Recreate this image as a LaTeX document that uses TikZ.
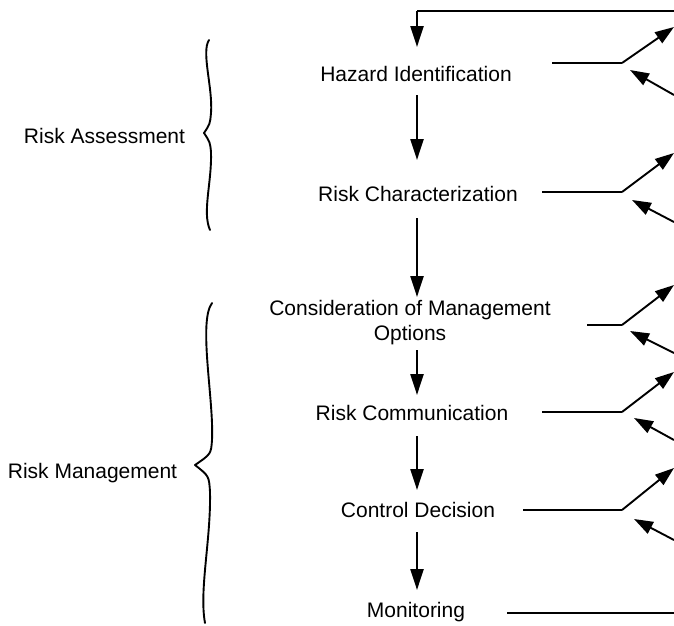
\documentclass[tikz,border=0pt]{standalone}
\usepackage{fontspec}
\setmainfont{Liberation Sans}
\usetikzlibrary{arrows.meta}
\begin{document}
\begin{tikzpicture}[x=1pt,y=-1pt,
  lbl/.style={anchor=base,inner sep=0pt,font=\fontsize{21}{25}\selectfont,align=center},
  varr/.style={line width=2.3pt,-{Triangle[length=21pt,width=13pt]}},
  dline/.style={line width=1.9pt},
  darr/.style={line width=1.9pt,-{Triangle[length=19pt,width=13pt]}},
  brc/.style={line width=1.9pt,line cap=round,line join=round}]
\useasboundingbox (0,0) rectangle (674,625);
% labels
\node[lbl] (haz) at (416,81) {Hazard Identification};
\node[lbl] (rch) at (418,201) {Risk Characterization};
\node[lbl] (cmo) at (410,340) {Consideration of Management\\Options};
\node[lbl] (rcm) at (412,420) {Risk Communication};
\node[lbl] (ctl) at (418,517) {Control Decision};
\node[lbl] (mon) at (416,617) {Monitoring};
\node[lbl] (ra) at (104.5,143) {Risk Assessment};
\node[lbl] (rm) at (92.5,478) {Risk Management};
% vertical flow coordinates
\coordinate (top) at (674,11);
\coordinate (topc) at (417,11);
\coordinate (hazN) at (417,47);
\coordinate (hazS) at (417,95);
\coordinate (rchN) at (417,160);
\coordinate (rchS) at (417,218);
\coordinate (cmoN) at (417,297);
\coordinate (cmoS) at (417,350);
\coordinate (rcmN) at (417,395);
\coordinate (rcmS) at (417,436);
\coordinate (ctlN) at (417,490);
\coordinate (ctlS) at (417,532);
\coordinate (monN) at (417,590);
\draw[line width=2.5pt] (top) -- (topc);
\draw[varr] (topc) -- (hazN);
\draw[varr] (hazS) -- (rchN);
\draw[varr] (rchS) -- (cmoN);
\draw[varr] (cmoS) -- (rcmN);
\draw[varr] (rcmS) -- (ctlN);
\draw[varr] (ctlS) -- (monN);
% right side connectors
\foreach \n/\y/\s/\u/\ia/\ib/\it in {h/63/552/27/95/630/70, c/192/542/153/222/632/200, m/325/587/285/353/630/331, r/412/542/372/440/634/418, d/510/523/468/540/634/519}{
  \coordinate (\n s) at (\s,\y);
  \coordinate (\n k) at (622,\y);
  \coordinate (\n u) at (674,\u);
  \coordinate (\n i) at (674,\ia);
  \coordinate (\n t) at (\ib,\it);
  \draw[dline] (\n s) -- (\n k);
  \draw[darr] (\n k) -- (\n u);
  \draw[darr] (\n i) -- (\n t);
}
\coordinate (mons) at (507,613);
\coordinate (mone) at (674,613);
\draw[line width=2.6pt] (mons) -- (mone);
% braces
\draw[brc] (209,40) .. controls (201,52) and (213,88) .. (211,113) .. controls (210,124) .. (204,133)
  .. controls (210,142) .. (211,152) .. controls (212,182) and (202,212) .. (210,230);
\draw[brc] (212,303) .. controls (198,322) and (214,400) .. (212,440) .. controls (211,454) .. (195,465)
  .. controls (209,476) .. (210,492) .. controls (211,540) and (199,590) .. (205,623);
\end{tikzpicture}
\end{document}
